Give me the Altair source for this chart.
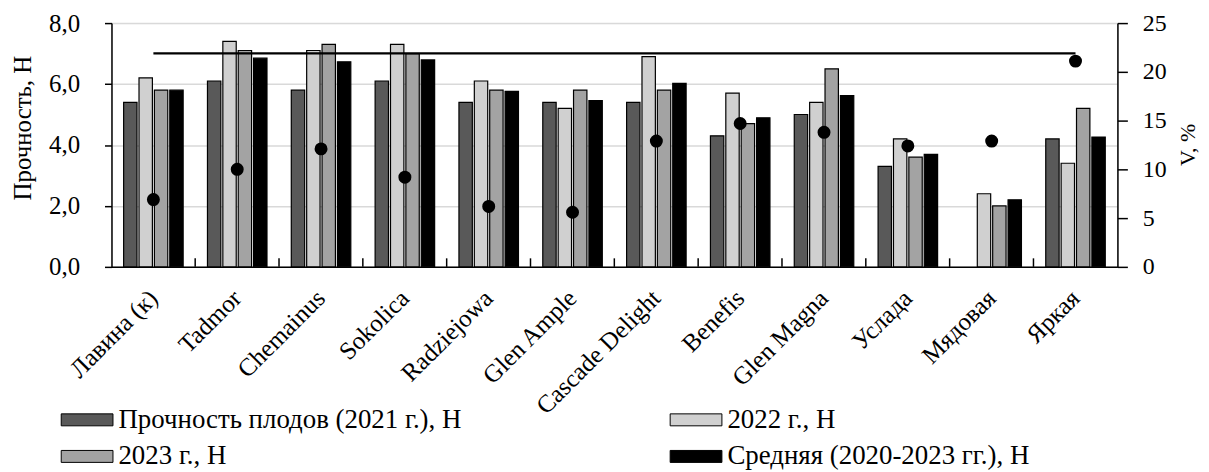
import altair as alt
import pandas as pd

cats = ["Лавина (к)", "Tadmor", "Chemainus", "Sokolica", "Radziejowa", "Glen Ample",
        "Cascade Delight", "Benefis", "Glen Magna", "Услада", "Мядовая", "Яркая"]
series_names = ["Прочность плодов (2021 г.), Н", "2022 г., Н", "2023 г., Н",
                "Средняя (2020-2023 гг.), Н"]
s2021 = [5.4, 6.1, 5.8, 6.1, 5.4, 5.4, 5.4, 4.3, 5.0, 3.3, None, 4.2]
s2022 = [6.2, 7.4, 7.1, 7.3, 6.1, 5.2, 6.9, 5.7, 5.4, 4.2, 2.4, 3.4]
s2023 = [5.8, 7.1, 7.3, 7.0, 5.8, 5.8, 5.8, 4.7, 6.5, 3.6, 2.0, 5.2]
s_mean = [5.8, 6.85, 6.73, 6.79, 5.76, 5.46, 6.02, 4.89, 5.62, 3.69, 2.2, 4.26]
v_pct = [6.9, 10.0, 12.1, 9.2, 6.2, 5.6, 12.9, 14.7, 13.8, 12.4, 12.9, 21.1]
v_line = [21.9, 21.9, 21.9, 21.9, 21.9, 21.9, 21.9, 21.9, 21.9, 21.9, 21.9, 21.9]
colors = ["#595959", "#d0d0d0", "#a3a3a3", "#000000"]

FONT = "Liberation Serif"

rows = []
for name, vals in zip(series_names, [s2021, s2022, s2023, s_mean]):
    for c, v in zip(cats, vals):
        if v is not None:
            rows.append({"cat": c, "series": name, "value": v})
bars_df = pd.DataFrame(rows)
v_df = pd.DataFrame({"cat": cats, "v": v_pct, "line": v_line})
tick_df = pd.DataFrame({"cat": cats[:-1]})

x_axis = alt.Axis(labelAngle=315, labelAlign="right", labelBaseline="middle",
                  labelPadding=27, ticks=False, domain=True, domainColor="black",
                  domainWidth=1.5, labelFont=FONT, labelFontSize=25, labelColor="black",
                  title=None)
x_scale = alt.Scale(paddingInner=0.29, paddingOuter=0.145)

def xenc():
    return alt.X("cat:N", sort=cats, title=None, scale=x_scale, axis=x_axis)

left_axis = alt.Axis(values=[0, 2, 4, 6, 8],
                     labelExpr="replace(format(datum.value, '.1f'), '.', ',')",
                     grid=True, gridColor="#d9d9d9", gridWidth=1.5,
                     domainColor="black", domainWidth=1.5,
                     tickColor="black", tickSize=7, tickWidth=1.5,
                     labelPadding=25, labelFont=FONT, labelFontSize=25,
                     labelColor="black", titleFont=FONT, titleFontSize=25,
                     titleFontWeight="normal", titleColor="black",
                     titleX=-89, titleY=105, titleAngle=270, titleAlign="center",
                     titleBaseline="middle", title="Прочность, Н")
left_scale = alt.Scale(domain=[0, 8])

right_axis = alt.Axis(orient="right", values=[0, 5, 10, 15, 20, 25], grid=False,
                      domainColor="black", domainWidth=1.5, tickColor="black",
                      tickSize=10, tickWidth=1.5, labelPadding=15, labelFont=FONT,
                      labelFontSize=24, labelColor="black", titleFont=FONT,
                      titleFontSize=22, titleFontWeight="normal", titleColor="black",
                      titleAngle=270, titleX=70, titleY=122, titleAlign="center",
                      titleBaseline="middle", title="V, %")
right_scale = alt.Scale(domain=[0, 25])

bars = alt.Chart(bars_df).mark_bar(stroke="black", strokeWidth=1.2).encode(
    x=xenc(),
    xOffset=alt.XOffset("series:N", sort=series_names,
                        scale=alt.Scale(paddingInner=0.13, paddingOuter=0)),
    y=alt.Y("value:Q", scale=left_scale, axis=left_axis),
    color=alt.Color("series:N", sort=series_names,
                    scale=alt.Scale(domain=series_names, range=colors),
                    legend=alt.Legend(title=None, orient="none", legendX=-38, legendY=385,
                                      direction="horizontal", columns=2,
                                      columnPadding=207, rowPadding=9, padding=0,
                                      symbolType="M-2.6,-0.6H2.6V0.6H-2.6Z", symbolSize=400,
                                      symbolStrokeColor="black", symbolStrokeWidth=1,
                                      labelFont=FONT, labelFontSize=27, labelColor="black",
                                      labelOffset=18, labelLimit=600)),
)

ticks = alt.Chart(tick_df).mark_rule(color="black", strokeWidth=1.5, xOffset=42).encode(
    x=xenc(),
    y=alt.YDatum(0, scale=left_scale, axis=left_axis),
    y2=alt.Y2Datum(0.28),
)

left = alt.layer(bars, ticks)

vline = alt.Chart(v_df).mark_line(color="black", strokeWidth=2.2).encode(
    x=xenc(),
    y=alt.Y("line:Q", scale=right_scale, axis=right_axis),
)
vpts = alt.Chart(v_df).mark_circle(color="black", opacity=1, size=170).encode(
    x=xenc(),
    y=alt.Y("v:Q", scale=right_scale, axis=right_axis),
)
right = alt.layer(vline, vpts)

chart = alt.layer(left, right).resolve_scale(y="independent").properties(
    width=1011, height=245,
    autosize=alt.AutoSizeParams(type="none"),
    padding={"left": 104, "top": 14, "right": 84, "bottom": 204},
).configure_view(stroke=None).configure(background="white")

chart.save("out.html", embed_options={"renderer": "svg", "actions": False})
